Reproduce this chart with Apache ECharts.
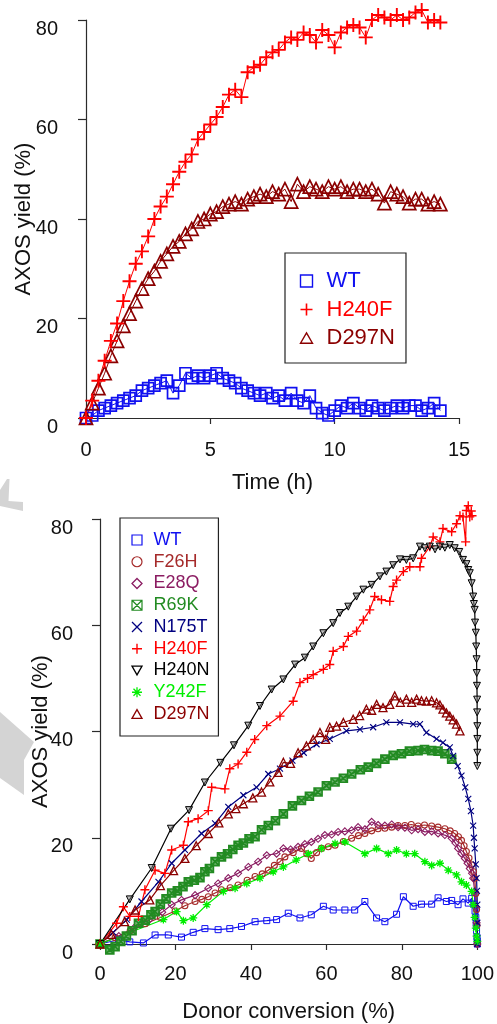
<!DOCTYPE html>
<html><head><meta charset="utf-8">
<script src="https://cdn.jsdelivr.net/npm/echarts@6/dist/echarts.min.js"></script>
<style>html,body{margin:0;padding:0;background:#fff}#c{width:497px;height:1024px}</style>
</head><body><div id="c"></div>
<script>
// ---------- Top panel: AXOS yield vs time ----------
var timeH = [0,0.25,0.5,0.75,1,1.25,1.5,1.75,2,2.25,2.5,2.75,3,3.25,3.5,3.75,4,4.25,4.5,4.75,5,5.25,5.5,5.75,6,6.25,6.5,6.75,7,7.25,7.5,7.75,8,8.25,8.5,8.75,9,9.25,9.5,9.75,10,10.25,10.5,10.75,11,11.25,11.5,11.75,12,12.25,12.5,12.75,13,13.25,13.5,13.75,14,14.25];
var topWT    = [0,0.5,1.5,2,2.5,3,3.5,4,4.5,5.5,6,6.5,7,7.5,5,6.5,9,8,8.5,8,8.5,9,8,7.5,7,6,5.5,5,4.5,5,4,4.5,3.5,5,3.5,3,4.5,2,1,0.5,1.5,2.5,2,3,2,1.5,2.5,2,1.5,2,2.5,2,2.5,2.5,1.5,2,3,1.5];
var topH240F = [0,3.5,7.5,11.5,15.5,19,23.5,27.5,31,33.5,36.5,40,42.5,44.5,47,49.5,51.5,53,56,57.5,59,60.5,62.5,65,66,64.5,69.5,70.5,71,72.5,73.5,74,75.5,76.5,76,77.5,77,75.5,78,77,74.5,77.5,78.5,79,78.5,76.5,80,81,80.5,80,81,80,80.5,81.5,82,79.5,80,79.5];
var topD297N = [0,3,6,9,12.5,15.5,18.5,21,23.5,26,28,29.5,31.5,33,34.5,35.5,37,38,39.5,40,41,41.5,42.5,43,43.5,43,44,44.5,45,44.5,45.5,45,46,43.5,47,45.5,46.5,46,45.5,46.5,46,46.5,45.5,46,46,45.5,46,45,43.2,45.5,45,44.5,43.2,44,44,43,43.5,43];

// ---------- Bottom panel: AXOS yield vs donor conversion ----------
var WT_conv  = [0,4.9,7.9,11.5,14.6,18.1,21.6,24.7,27.8,31.3,34.4,37.5,41.1,44.2,46.8,49.9,53,56,59.2,61.8,64.9,67.5,70.2,73.3,75.5,78.6,80.4,83,85.2,87.9,89.6,91.8,93.2,94.9,96.2,97.6,98.5,99.1,99.4,99.6,99.7,99.8,99.9,100,100];
var WT_yield = [0,0.8,0.4,0.2,1.7,1.7,1.3,2.2,2.9,2.7,2.9,3.3,4.2,4.4,4.6,5.8,4.9,5.5,7.1,6.4,6.4,6.4,8,4.9,4.2,5.6,8.9,7.1,7.5,7.5,8.7,8,8.2,7.4,8.5,7.7,8.6,7.5,6.2,5,3.8,2.5,1.3,0.6,0];

var F26H_conv  = [0,4,8,12,16,19.9,22.5,25.2,27,28.7,30.5,32.2,34.5,36.6,39,41.1,43,44.6,46.2,47.7,49,51.2,53.4,54.8,56,57.4,58.7,60.5,62.3,64.5,66.7,68.5,70.2,72,73.7,75.5,77.3,79,80.8,82.5,84.3,86,87.9,89.6,91.4,92.8,94,95,95.8,96.5,97.1,97.8,98.5,99,99.3,99.6,99.8,99.9,100];
var F26H_yield = [0,1.2,2.5,3.8,5,6.2,7.2,8,8.4,8.9,9.6,10.2,10.6,11.1,12,12.7,13.2,13.9,14.8,15.5,16.4,17.2,18,17,16.1,17.2,18,18.3,18.6,19.3,19.9,20.4,20.8,21.3,21.7,21.8,22,22.3,22.3,22.5,22.2,22.4,22.2,22,21.7,21.3,20.8,20.2,19.5,18.5,17.4,16.2,14.9,13.6,12.4,9.5,6.5,3.5,0];

var E28Q_conv  = [0,5,9,13,16.5,19,21.6,25.2,28.7,31.3,34,36.6,39.3,41.9,44.2,46.8,48.6,50.5,52.5,54.3,56,57.8,59.6,61.4,63.1,64.9,66.7,68.4,70.2,72,73.7,75.5,77.3,79,80.8,82.6,84.3,86.1,87.9,89.6,91.4,93.2,94.2,94.9,95.8,96.7,97.4,98,98.6,98.9,99.3,99.6,99.8,100];
var E28Q_yield = [0,1.5,3,4.5,6,7.4,8.3,9.2,10.5,11.4,12.4,13.3,14.5,15.5,16.7,17,18,17.8,18.3,18.8,19.2,19.8,20.5,20.6,21.1,21.2,21.4,22,21.6,23,22.4,22.3,22.5,22,21.9,21.4,21.6,21.1,21.2,20.8,20.5,19.9,19,18,17,16.1,15.2,14.2,13.3,12.4,9.9,7,4,0];

var R69K_conv  = [0,2.6,4,5.5,7,8.5,10.2,12,13.5,14.6,16,17.5,19,20.5,22,23.4,25,26.5,27.8,29,30.5,32.2,33.8,35.2,36.6,38,39.5,41.1,42.8,44.6,46.5,48.6,51,53.4,55.5,57.8,60,62.3,64.5,66.7,69,71.1,73.3,75.5,77.7,79.9,82,84.3,86,87.9,89.6,91.4,93.2];
var R69K_yield = [0,-1.1,-0.5,0.5,1.5,2.5,3.9,4.5,5.5,6.1,7.5,8.5,9.6,10,10.8,11.7,12,12.5,13.6,14.2,15.5,16.4,17,17.8,18.6,19,19.8,20.2,21.5,22.3,23.2,24.5,26,27,27.8,28.6,29.8,30.5,31.2,32,32.8,33.3,34,34.8,35.5,35.8,36.3,36.4,36.6,36.4,36.3,35.8,34.8];

var N175T_conv  = [0,3.5,7.1,11,15.5,19,22.5,26.9,30.5,34,38,41.5,44.6,47.7,51,54,57.4,60.9,65.3,68.9,72.4,75.9,79.5,83,84.8,86.5,89.2,90.9,92.7,93.6,94.8,95.8,96.8,97.6,98.3,98.9,99.1,99.3,99.6,99.8,99.9,100,100,100,100];
var N175T_yield = [0,2.2,4.6,8,11.7,15.2,17.7,20.8,22.7,25.8,28,29.5,32,33,34.5,36,37.6,38.6,40.1,40.4,40.8,41.7,41.7,41.4,41.4,39.8,38.6,37.9,37,35.4,33.5,31.7,29.5,27.3,25,22.3,20,18,15,12.4,10,7.4,4,1.1,0];

var H240F_conv  = [0,4.4,6.2,7.9,10.2,11.9,14.6,17.2,19,22.1,23.4,26,28.7,29.6,33.1,34.4,36.6,38.9,41,44.2,47.7,51.2,53,55,56.5,59.2,60.9,61.8,64.5,65.8,68,69.8,71.5,72.8,74.6,76.8,77.7,78.6,80.4,82.1,84.8,85.2,87.4,88.3,90.1,90.9,93.2,94.5,95.4,96.2,96.9,97.1,97.6,98,98.4,98.6];
var H240F_yield = [0,3.9,7,5.2,5.2,10.2,13.9,13.3,17.7,18.6,23,23.6,25.1,29.5,29.2,33,33.9,36.1,38.5,41.1,42.9,45.7,49.2,50,50.7,51.7,52.6,55.1,56,57.9,58.9,61,62.9,65.4,64.8,64.5,67.3,68.5,70.1,71,71,72.6,74.8,76.6,75.7,78.2,77.6,79.1,80.6,80.4,75.7,81.6,82.5,80.4,81.5,80.6];

var H240N_conv  = [0,7.9,13.7,18.8,23.6,27.8,31.9,35.5,39.3,42.4,45.5,48.6,51.7,54.3,56.5,59.2,61.8,63.6,65.8,68,69.8,72,74.2,75.9,77.7,79.5,81.2,83,84.8,86.1,87.4,88.8,90.1,91.4,92.7,94,95.2,96.2,97.1,97.6,98,98.5,98.9,99.1,99.3,99.4,99.6,99.7,99.8,99.85,99.9,99.95,99.95,100,100,100,100];
var H240N_yield = [0,8.4,14.3,21.7,25.2,30.4,34.1,37.4,41.1,44.8,47.9,49.8,52.6,53.9,56,58.5,60.4,62.3,63.5,65.4,66.7,67.6,69.2,70.1,71.3,72.4,72.3,72.6,74.8,74.5,74.8,74.3,74.8,74.6,75.1,74.5,73.8,72.3,71.5,70.4,69.8,67.9,65.4,64,62.9,60.5,58.6,56,53.6,51,48.6,46,43.6,41,38.6,36,33.5];

var Y242F_conv  = [0,16.8,20.3,22.1,24.7,28.3,32.7,35.8,38.9,42.4,45.9,48.6,52,55.2,58.7,62.3,64.9,70.2,73.3,76.4,78.6,81.2,83.4,86.1,87.9,90.1,92.3,94.5,95.8,97.1,98.5,98.9,99.3,99.6,99.8,100];
var Y242F_yield = [0,4.6,6.1,4.4,4.9,7.4,9.9,10.5,11.4,12.4,13.6,14.5,15.8,17,18,18.9,19.2,17,18,17,17.7,17,17,15.5,14.8,15.2,13.9,13,11.7,11.1,9.9,7.4,5,3,1.5,0.5];

var D297N_conv  = [0,3,6.5,9.3,13.2,16,19.5,22.5,25.5,28.7,31.5,34,36,38,40.5,42.8,45,47.2,48.6,50.5,52.5,54.7,56.5,58.3,59.8,60.9,62.7,64.5,67.1,68.8,70.6,72,73.3,75,76.8,78.1,79.6,81.2,82.6,83.9,85.2,86.5,87.9,89.2,90.1,90.9,91.8,92.7,93.6,94.5,95.4];
var D297N_yield = [0,1.8,4.2,6.4,8.3,11,13.8,16.1,18.5,20.8,22.8,24.5,25.5,26.4,27.5,28.6,30.5,32.3,34.2,34,36,37.3,38.5,39.8,38.5,40.8,41,41.7,42.3,43,44.2,44,45.1,44.5,45.1,46.7,45.5,46.1,45.5,46.1,45.8,45.7,45.8,45.4,45,44.2,43.5,42.9,42.2,41.4,40.1];

// ---------- styling ----------
var FONT = "'Liberation Sans', Arial, sans-serif";
var AX = '#2b2b2b', TX = '#111';
var COL = {WT:'#1010f0', F26H:'#a52a2a', E28Q:'#8b1c62', R69K:'#228b22', N175T:'#000080', H240F:'#ff0000', H240N:'#000000', Y242F:'#00ee00', D297N:'#8b0000'};
var SYM = {
  square:'path://M0,0L10,0L10,10L0,10Z',
  circle:'path://M5,0A5,5,0,1,1,5,10A5,5,0,1,1,5,0Z',
  diamond:'path://M5,0L10,5L5,10L0,5Z',
  boxX:'path://M0,0L10,0L10,10L0,10ZM0,0L10,10M10,0L0,10',
  cross:'path://M0,0L10,10M10,0L0,10',
  plus:'path://M0,5L10,5M5,0L5,10',
  triDown:'path://M0,0L10,0L5,8.66Z',
  star:'path://M0,5L10,5M5,0L5,10M1.5,1.5L8.5,8.5M8.5,1.5L1.5,8.5',
  triUp:'path://M5,0L10,8.66L0,8.66Z'
};
function zip(a, b){ return a.map(function(v,i){ return [v, b[i]]; }); }
function ser(name, g, data, sym, size, color, lw, bw, fill){
  return {type:'line', name:name, xAxisIndex:g, yAxisIndex:g, data:data, symbol:sym, symbolSize:size,
    showSymbol:true, clip:false, animation:false, emphasis:{disabled:true}, z:2,
    lineStyle:{color:color, width:lw}, itemStyle:{color:fill || 'rgba(0,0,0,0)', borderColor:color, borderWidth:bw}};
}
function xAx(g, max, intv, name, gap, lblMargin){
  return {gridIndex:g, type:'value', min:0, max:max, interval:intv, name:name, nameLocation:'middle', nameGap:gap,
    nameMoveOverlap:false,
    nameTextStyle:{fontSize:22, color:TX, fontFamily:FONT},
    axisLine:{show:true, onZero:false, lineStyle:{color:AX, width:1.2}},
    axisTick:{show:true, length:6, lineStyle:{color:AX, width:1.2}},
    axisLabel:{fontSize:20, color:TX, fontFamily:FONT, margin:lblMargin},
    splitLine:{show:false}};
}
function yAx(g, name, gap, lblMargin){
  return {gridIndex:g, type:'value', min:0, max:80, interval:20, name:name, nameLocation:'middle', nameGap:gap,
    nameMoveOverlap:false,
    nameTextStyle:{fontSize:22, color:TX, fontFamily:FONT},
    axisLine:{show:true, onZero:false, lineStyle:{color:AX, width:1.2}},
    axisTick:{show:true, length:8, lineStyle:{color:AX, width:1.2}},
    axisLabel:{fontSize:20, color:TX, fontFamily:FONT, margin:lblMargin, verticalAlign:'top', lineHeight:18},
    splitLine:{show:false}};
}
function legItem(name, sym, bw){
  return {name:name, icon:sym, itemStyle:{color:'rgba(0,0,0,0)', borderColor:COL[name], borderWidth:bw}, textStyle:{color:COL[name]}};
}

var series = [
  ser('WT',    0, zip(timeH, topWT),    SYM.square, 11, COL.WT, 1, 1.7),
  ser('D297N', 0, zip(timeH, topD297N), SYM.triUp, 13, COL.D297N, 1, 1.7),
  ser('H240F', 0, zip(timeH, topH240F), SYM.plus, 14, COL.H240F, 1, 1.9),

  ser('WT',    1, zip(WT_conv, WT_yield),       SYM.square, 6, COL.WT, 1.2, 1),
  ser('F26H',  1, zip(F26H_conv, F26H_yield),   SYM.circle, 6, COL.F26H, 1.2, 1.1),
  ser('E28Q',  1, zip(E28Q_conv, E28Q_yield),   SYM.diamond, 7, COL.E28Q, 1.2, 1.1),
  ser('R69K',  1, zip(R69K_conv, R69K_yield),   SYM.boxX, 8, COL.R69K, 1.2, 1.6, 'rgba(34,139,34,0.65)'),
  ser('N175T', 1, zip(N175T_conv, N175T_yield), SYM.cross, 6, COL.N175T, 1.2, 1.1),
  ser('H240F', 1, zip(H240F_conv, H240F_yield), SYM.plus, 9, COL.H240F, 1.2, 1.4),
  ser('H240N', 1, zip(H240N_conv, H240N_yield), SYM.triDown, 7, COL.H240N, 1.2, 1, 'rgba(128,128,128,0.5)'),
  ser('Y242F', 1, zip(Y242F_conv, Y242F_yield), SYM.star, 8, COL.Y242F, 1.2, 1.3),
  ser('D297N', 1, zip(D297N_conv, D297N_yield), SYM.triUp, 8, COL.D297N, 1.2, 1.3)
];

var option = {
  backgroundColor:'#fff',
  animation:false,
  textStyle:{fontFamily:FONT},
  graphic:[
    {type:'polygon', z:-10, silent:true, shape:{points:[[0,490],[7,479],[9.5,479],[8.5,501],[23,502],[23,511],[0,506]]}, style:{fill:'#d4d4d4'}},
    {type:'polygon', z:-10, silent:true, shape:{points:[[0,712],[34,742],[24,760],[24,795],[0,778]]}, style:{fill:'#d4d4d4'}}
  ],
  grid:[
    {left:86, top:20, width:373, height:398},
    {left:100, top:519, width:377.5, height:427}
  ],
  xAxis:[ xAx(0, 15, 5, 'Time (h)', 54, 22), xAx(1, 100, 20, 'Donor conversion (%)', 57, 20) ],
  yAxis:[ yAx(0, 'AXOS yield (%)', 51, 28), yAx(1, 'AXOS yield (%)', 48, 27) ],
  legend:[
    {orient:'vertical', left:285, top:253, padding:[17,11,14,14.7], itemGap:6.5, itemWidth:12, itemHeight:12,
     borderColor:'#222', borderWidth:1.2, selectedMode:false,
     textStyle:{fontSize:22, lineHeight:21, fontFamily:FONT, padding:[0,0,0,9]},
     data:[legItem('WT', SYM.square, 1.4), legItem('H240F', SYM.plus, 1.6), legItem('D297N', SYM.triUp, 1.4)]},
    {orient:'vertical', left:120, top:518, padding:[13,9,13,11.3], itemGap:3.75, itemWidth:10, itemHeight:10,
     borderColor:'#222', borderWidth:1.2, selectedMode:false,
     textStyle:{fontSize:18, lineHeight:18, fontFamily:FONT, padding:[0,0,0,6.4]},
     data:[legItem('WT', SYM.square, 1.2), legItem('F26H', SYM.circle, 1.2), legItem('E28Q', SYM.diamond, 1.3),
           legItem('R69K', SYM.boxX, 1.2), legItem('N175T', SYM.cross, 1.3), legItem('H240F', SYM.plus, 1.4),
           legItem('H240N', SYM.triDown, 1.3), legItem('Y242F', SYM.star, 1.3), legItem('D297N', SYM.triUp, 1.3)]}
  ],
  series:series
};
var chart = echarts.init(document.getElementById('c'), null, {renderer:'canvas'});
chart.setOption(option);
</script></body></html>
